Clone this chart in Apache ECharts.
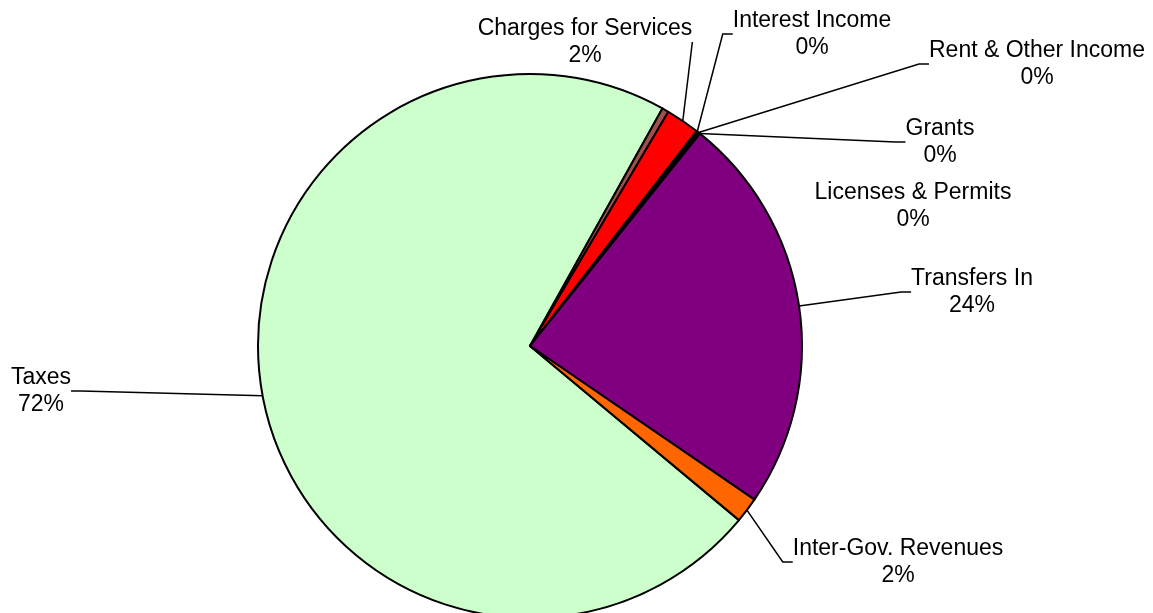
<!DOCTYPE html>
<html>
<head>
<meta charset="utf-8">
<title>Revenue Sources</title>
<script src="https://cdn.jsdelivr.net/npm/echarts@6/dist/echarts.min.js"></script>
<style>
  html, body { margin: 0; padding: 0; background: #fff; }
  #pie { width: 1153px; height: 613px; }
</style>
</head>
<body>
<div id="pie"></div>
<script>
  // revenue sources, clockwise in pie order
  var categories = ['Taxes', 'Licenses & Permits', 'Charges for Services', 'Interest Income',
    'Rent & Other Income', 'Grants', 'Transfers In', 'Inter-Gov. Revenues'];
  var shares = [72.0, 0.4, 2.0, 0.1, 0.1, 0.05, 23.8, 1.5];
  var colors = ['#CCFFCC', '#A0504A', '#FF0000', '#000000', '#000000', '#000000', '#800080', '#FF6600'];

  // centre of each label block, px
  var labelPos = {
    'Taxes': [41, 391],
    'Licenses & Permits': [913, 206],
    'Charges for Services': [585, 42],
    'Interest Income': [812, 34],
    'Rent & Other Income': [1037, 64],
    'Grants': [940, 142],
    'Transfers In': [972, 292],
    'Inter-Gov. Revenues': [898, 562]
  };

  var myChart = echarts.init(document.getElementById('pie'));

  var pieData = categories.map(function (name, i) {
    var item = { name: name, value: shares[i], itemStyle: { color: colors[i] } };
    if (name === 'Licenses & Permits') {
      item.labelLine = { show: false };
    }
    return item;
  });

  var option = {
    backgroundColor: '#fff',
    animation: false,
    series: [
      {
        type: 'pie',
        center: [530, 346],
        radius: 272,
        startAngle: -39.8,
        clockwise: true,
        percentPrecision: 0,
        avoidLabelOverlap: false,
        data: pieData,
        itemStyle: {
          borderColor: '#000',
          borderWidth: 2
        },
        label: {
          show: true,
          position: 'outside',
          formatter: '{b}\n{d}%',
          fontFamily: '"Liberation Sans", Arial, sans-serif',
          fontSize: 23,
          lineHeight: 27,
          color: '#000',
          align: 'center'
        },
        labelLine: {
          show: true,
          length: 0,
          length2: 10,
          smooth: false,
          lineStyle: { color: '#000', width: 1.5 }
        },
        labelLayout: function (params) {
          var p = labelPos[categories[params.dataIndex]];
          return { x: p[0], y: p[1], align: 'center', verticalAlign: 'middle' };
        },
        emphasis: { disabled: true }
      }
    ]
  };

  myChart.setOption(option);
</script>
</body>
</html>
